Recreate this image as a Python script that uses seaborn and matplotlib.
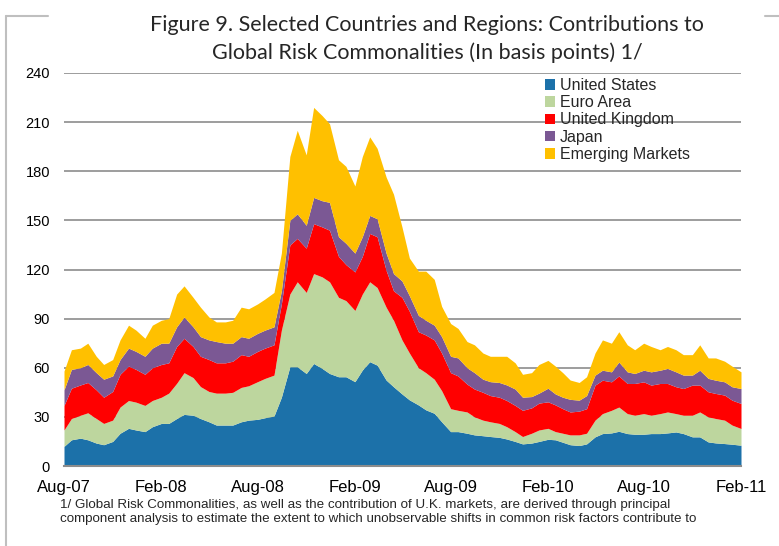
import matplotlib
matplotlib.use("Agg")
import matplotlib.pyplot as plt
from matplotlib.lines import Line2D
from matplotlib.patches import Patch
import seaborn as sns
import pandas as pd

sns.set_theme(style="white")
plt.rcParams['font.family'] = ['Liberation Sans', 'DejaVu Sans']

# semi-monthly observations, Aug-07 .. Feb-11
dates = pd.date_range("2007-08-01", "2011-02-01", freq="SMS")

united_states = [12, 16, 17, 16, 14, 13, 15, 20, 23, 22, 21, 24, 26, 26, 29, 31.5, 31, 29, 27, 25,
                 25, 25, 27, 28, 28.5, 29.5, 30.5, 42, 60.6, 60.6, 56.5, 62.6, 59.6, 56.5, 54.5, 54.5, 51.5, 58.6, 63.7, 61.6,
                 52.5, 48.4, 44, 40.4, 37.3, 34.3, 32.2, 27, 21, 21, 20, 19, 18.5, 18, 17.5, 16.5, 15, 13.5, 14, 15,
                 16.3, 16, 14.5, 13, 12.5, 13.5, 17.8, 19.8, 20.2, 21.2, 19.8, 19.4, 19.4, 19.8, 19.8, 20.2, 20.8, 19.8, 17.8, 17.8,
                 14.7, 14.1, 13.7, 13.3, 12.7]
euro_area = [10, 13, 14, 16.5, 15, 13, 13, 16, 17, 17, 16, 16, 16, 18.5, 21.5, 25.5, 23, 19.5, 18.5, 19.5,
             19.5, 20, 21, 21, 23, 24, 25, 41, 44.4, 51.9, 49.5, 54.9, 55.9, 56, 48.5, 46.5, 43.5, 46.4, 48.8, 47.4,
             44.5, 40.6, 33, 28.6, 22.7, 22.7, 20.8, 19, 14, 13, 13, 11, 9.5, 9, 8.5, 7.5, 6, 4.5, 6, 7,
             6.7, 5, 5.5, 6, 6.5, 6.5, 10.2, 12.2, 13.8, 14.8, 12.2, 11.6, 12.6, 11.2, 12.2, 12.8, 11.2, 11.2, 13.2, 15.2,
             15.3, 14.9, 14.3, 11.7, 10.2]
united_kingdom = [15, 18.5, 18.5, 18.5, 17.5, 16, 17.5, 20, 21, 20, 19, 20, 20, 18.5, 22.5, 21, 19, 18.5, 19.5, 18.5,
                  18.5, 19, 20, 18, 18.5, 18.5, 18.5, 16, 30, 26.5, 27, 30.5, 30.5, 31.5, 25, 22, 23.5, 23, 29.5, 31,
                  22.5, 18, 26, 25.5, 22, 23, 24, 23, 22, 21, 17, 17, 17, 16, 16, 16, 16, 16, 15.5, 16.4,
                  16.2, 16.3, 15, 14, 14.5, 15, 21.4, 20.4, 17.4, 19, 18.4, 19.4, 19.4, 18.4, 18.4, 17.4, 16.4, 16.3, 18.4, 16.4,
                  15.3, 15.3, 15.3, 15.2, 15.3]
japan = [9.5, 11.5, 10.5, 11, 10.5, 11, 9.5, 9, 11, 11, 11, 12, 13, 12, 12, 13, 12, 12, 12, 13,
         12, 11, 11, 11, 11, 11, 11, 8, 15, 15, 14, 16, 16, 17, 12, 13, 11.5, 12, 11, 11,
         10.5, 10.5, 10, 9.5, 10, 9, 9, 10, 10, 11, 10, 10, 8, 8.5, 9, 9.5, 10, 8, 6.9, 6.1,
         8.3, 6.7, 7, 7.7, 6.7, 8, 6.1, 6.1, 6.1, 8.5, 7.1, 6.1, 7.1, 8.1, 8.1, 9.2, 9.1, 8.2, 6.1, 9.1,
         8.2, 8.1, 8.1, 8.2, 9.1]
emerging_markets = [11.5, 12, 12, 13, 10, 9, 10, 12, 14, 13, 11, 14, 14, 15, 20, 19, 18, 18, 14, 12,
                    13, 14, 18, 18, 18, 19, 21, 23, 39, 51, 43, 55, 52, 48, 47, 47, 41, 49, 48, 43,
                    46.5, 48.5, 33, 23, 27, 30, 28, 18.5, 20, 18, 16, 17, 16, 15.5, 16, 17.5, 16, 14, 14.6, 17.5,
                    17, 17, 15, 11.8, 10.8, 11.5, 13.5, 18.5, 17.5, 18.5, 16.5, 14.5, 16.5, 15.5, 12.5, 13.4, 13.5, 12.5, 12.5, 15.5,
                    12.5, 13.6, 12.6, 12.6, 10.2]

series_names = ["United States", "Euro Area", "United Kingdom", "Japan", "Emerging Markets"]
series_colors = ["#1C71A9", "#BDD69E", "#FF0000", "#7B5894", "#FFC000"]

tick_dates = pd.to_datetime(["2007-08-01", "2008-02-01", "2008-08-01", "2009-02-01",
                             "2009-08-01", "2010-02-01", "2010-08-01", "2011-02-01"])
tick_labels = ["Aug-07", "Feb-08", "Aug-08", "Feb-09", "Aug-09", "Feb-10", "Aug-10", "Feb-11"]
y_ticks = [0, 30, 60, 90, 120, 150, 180, 210, 240]

title = "Figure 9. Selected Countries and Regions: Contributions to\nGlobal Risk Commonalities (In basis points) 1/"
footnote = ("1/ Global Risk Commonalities, as well as the contribution of U.K. markets, are derived through principal\n"
            "component analysis to estimate the extent to which unobservable shifts in common risk factors contribute to")

fig = plt.figure(figsize=(7.79, 5.46), dpi=100)
ax = fig.add_axes([64 / 779, 1 - 466 / 546, (741 - 64) / 779, (466 - 73) / 546])

ax.stackplot(dates, united_states, euro_area, united_kingdom, japan, emerging_markets,
             colors=series_colors, linewidth=0, zorder=2)

ax.set_xlim(dates[0], dates[-1])
ax.set_ylim(0, 240)
ax.set_yticks(y_ticks)
ax.set_yticklabels([str(v) for v in y_ticks])
ax.set_xticks(tick_dates)
ax.set_xticklabels(tick_labels)
ax.tick_params(axis="y", length=0, pad=10, labelsize=10.5, colors="black")
ax.tick_params(axis="x", length=0, pad=10, labelsize=12, colors="black")
ax.set_axisbelow(True)
ax.yaxis.grid(True, color="#8c8c8c", linewidth=1.2)
ax.xaxis.grid(False)
for s in ["top", "right", "left"]:
    ax.spines[s].set_visible(False)
ax.spines["bottom"].set_color("#8c8c8c")
ax.spines["bottom"].set_linewidth(1.5)

handles = [Patch(facecolor=c, edgecolor="none") for c in series_colors]
fig.legend(handles, series_names, loc="upper left", bbox_to_anchor=(545 / 779, 1 - 78 / 546),
           frameon=False, fontsize=11.5, handlelength=0.65, handleheight=0.65, handletextpad=0.3,
           labelspacing=0.14, borderpad=0, borderaxespad=0)

fig.text(0.548, 1 - 39 / 546, title, ha="center", va="center", fontsize=15.5,
         family=["Lato", "DejaVu Sans"], linespacing=1.45)
fig.text(60 / 779, 1 - 512 / 546, footnote, ha="left", va="center", fontsize=9.6, linespacing=1.2)

# outer frame fragments
fig.add_artist(Line2D([6 / 779, 6 / 779], [0, 1 - 16 / 546], color="#bfbfbf", lw=1.5, transform=fig.transFigure))
fig.add_artist(Line2D([6 / 779, 48 / 779], [1 - 16 / 546] * 2, color="#bfbfbf", lw=1.5, transform=fig.transFigure))
fig.add_artist(Line2D([765 / 779, 1], [1 - 16 / 546] * 2, color="#bfbfbf", lw=1.5, transform=fig.transFigure))

fig.savefig("out.png", dpi=100)
